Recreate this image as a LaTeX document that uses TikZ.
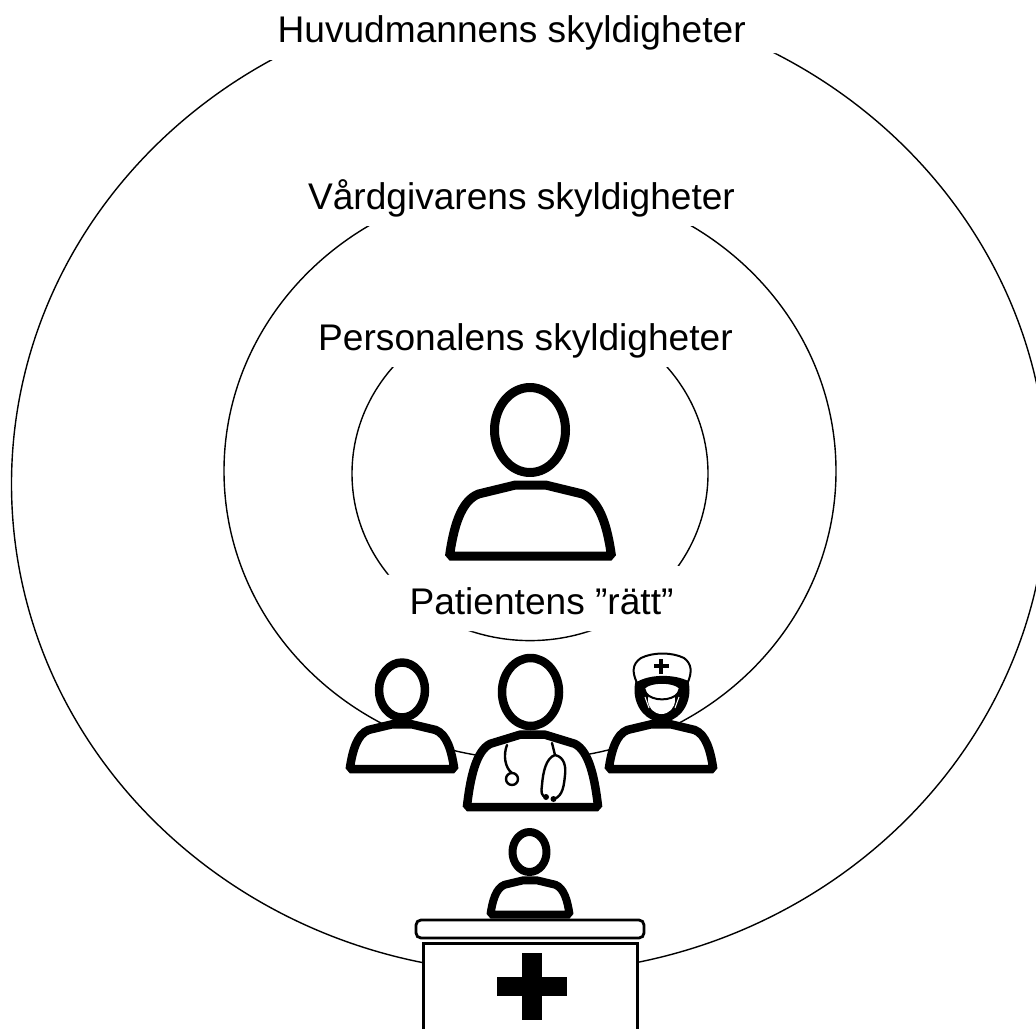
\documentclass[tikz,border=0pt]{standalone}
\usepackage{fontspec}
\setmainfont{Liberation Sans}
\tikzset{
  ring/.style={draw=black,line width=1.4pt},
  mask/.style={fill=white,draw=none},
  figline/.style={draw=black,fill=white,line join=bevel},
  label/.style={anchor=base,inner sep=0pt,font=\fontsize{37.1}{40}\selectfont},
  thin stroke/.style={draw=black,line width=2.4pt,line cap=round}
}
% body: x, bottom y, xscale, yscale, line width
\newcommand{\bodyshape}[5]{%
  \begin{scope}[shift={(#1,#2)},xscale=#3,yscale=#4]
    \path[figline,line width=#5]
      (-81,0) .. controls (-77,-28) and (-70,-55) .. (-52,-62)
      -- (-15,-71) -- (15,-71) -- (52,-62)
      .. controls (70,-55) and (77,-28) .. (81,0) -- cycle;
  \end{scope}}
\begin{document}
\begin{tikzpicture}[x=1pt,y=-1pt]
\useasboundingbox (0,0) rectangle (1036,1028);
\begin{scope}
\clip (0,0) rectangle (1036,1028);
% rings
\draw[ring] (529.5,484) ellipse [x radius=518,y radius=489];
\draw[ring] (530,471) ellipse [x radius=306,y radius=288.5];
\draw[ring] (530,473.6) ellipse [x radius=178,y radius=167];
\end{scope}
% gaps for the labels
\fill[mask] (262,0) -- (785,0) -- (785,53) -- (262,60) -- cycle;
\fill[mask] (300,170) rectangle (745,226);
\fill[mask] (310,295) rectangle (740,367);
\fill[mask] (380,575) -- (680,566) -- (680,631) -- (380,631) -- cycle;
% labels
\node[label] (huvud) at (511.7,42.5) {Huvudmannens skyldigheter};
\node[label] (vard) at (521.5,209.5) {Vårdgivarens skyldigheter};
\node[label] (pers) at (525.5,350) {Personalens skyldigheter};
\node[label] (pat) at (541.5,614) {Patientens ”rätt”};
% patient
\draw[figline,line width=9pt] (530,430) ellipse [x radius=35.5,y radius=42.5];
\bodyshape{530.5}{556}{1}{1}{9pt}
% left staff
\draw[figline,line width=8.5pt] (402,690) ellipse [x radius=23,y radius=27.5];
\bodyshape{402}{769}{.645}{.63}{8.5pt}
% nurse
\bodyshape{661}{769}{.645}{.63}{8.5pt}
\fill[black] (662,690) ellipse [x radius=27.5,y radius=32];
\path[fill=white] (661.5,700) ellipse [x radius=13.5,y radius=14];
\draw[white,line width=1pt] (645,697) -- (649,708);
\draw[white,line width=1pt] (679,697) -- (675,708);
\path[draw=black,fill=white,line width=2pt]
  (644,688) .. controls (650,681) and (674,681) .. (680,688) -- (678,693)
  .. controls (672,701.5) and (652,701.5) .. (646,693) -- cycle;
\path[draw=black,fill=white,line width=2pt]
  (637,683) .. controls (632,672) and (632,664) .. (641,658)
  .. controls (653,652) and (672,652) .. (684,658)
  .. controls (692,664) and (692,672) .. (688,682)
  .. controls (674,675) and (650,675) .. (637,683) -- cycle;
\fill[black] (659.2,658.5) rectangle (662.8,673.5);
\fill[black] (653.5,664.2) rectangle (668.5,667.8);
% doctor
\draw[figline,line width=8.5pt] (530.5,692) ellipse [x radius=28.5,y radius=34];
\bodyshape{532.5}{807}{.81}{1.02}{8.5pt}
\draw[thin stroke] (507,745) .. controls (503,755) and (505,768) .. (512,773);
\draw[thin stroke] (512,779) circle [radius=6];
\draw[thin stroke] (552,743) -- (555,755);
\draw[thin stroke] (546,797) .. controls (541,796) and (541,792) .. (542,785)
  .. controls (543,772) and (546,758) .. (555,755)
  .. controls (565,757) and (566,768) .. (565,775)
  .. controls (564,785) and (563,796) .. (554,799);
\fill[black] (546,797) circle [radius=3];
\fill[black] (553.5,799) circle [radius=3];
% reception desk
\draw[figline,line width=8pt] (529.5,852) ellipse [x radius=17,y radius=20];
\bodyshape{530}{914.5}{.488}{.48}{8pt}
\draw[draw=black,fill=white,line width=2.8pt,rounded corners=5pt] (416,920) rectangle (644,938);
\path[fill=white] (423,943) rectangle (637,1030);
\draw[black,line width=3pt] (423,1030) -- (423,943) -- (637,943) -- (637,1030);
\fill[black] (522,953) rectangle (542,1020);
\fill[black] (497,977) rectangle (567,996);
\end{tikzpicture}
\end{document}
